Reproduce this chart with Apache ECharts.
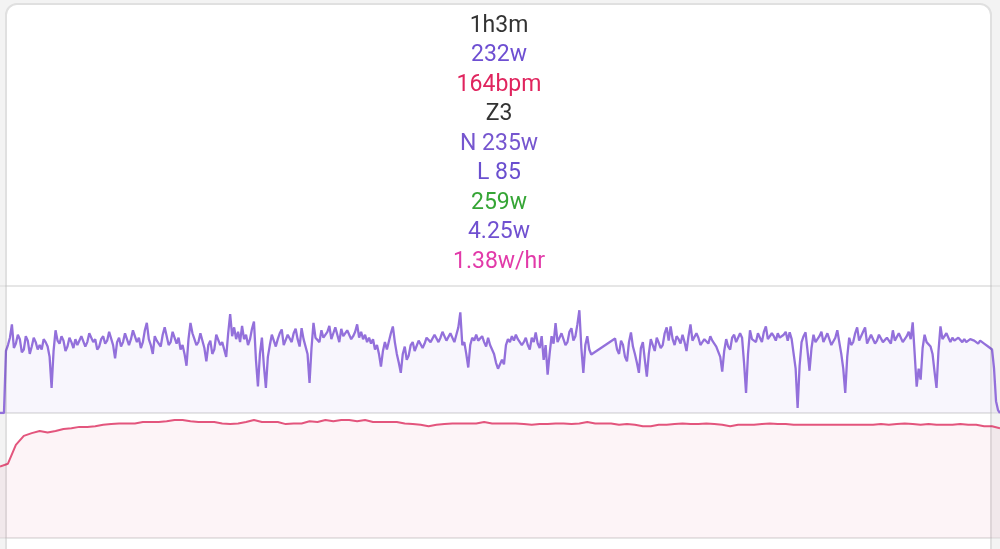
<!DOCTYPE html>
<html>
<head>
<meta charset="utf-8">
<script src="https://cdn.jsdelivr.net/npm/echarts@6/dist/echarts.min.js"></script>
<style>
  html, body { margin: 0; padding: 0; background: #f3f3f3; }
  #chart { width: 1000px; height: 549px; }
</style>
</head>
<body>
<div id="chart"></div>
<script>
// ---- data ----
// summary lines shown above the charts
const summaryTexts = ['1h3m', '232w', '164bpm', 'Z3', 'N 235w', 'L 85', '259w', '4.25w', '1.38w/hr'];
const summaryColors = ['#333333', '#6e4fd2', '#e0245e', '#333333', '#7656cf', '#6a4fcf', '#35a535', '#7050d0', '#e23aa9'];

// ride duration in seconds (1h3m)
const durationSec = 3780;
// power samples (watts), one every 7.5 s; null = no data (dropout)
const powerStepSec = 7.5;
const power = [
  0, 0, 0, 210, 230, 255, 300, 220, 235, 265, 250, 205, 215, 260, 245, 200, 225, 255, 240, 215,
  230, 215, 250, 240, 225, 190, 85, 210, 280, 245, 235, 260, 245, 210, 225, 255, 240, 220, 250, 230,
  235, 260, 255, 225, 240, 270, 265, 240, 250, 215, 225, 250, 260, 235, 245, 275, 270, 230, 185, 240,
  255, 225, 240, 270, 265, 230, 250, 280, 275, 240, 255, 220, 240, 280, 305, 250, 230, 200, 260, 245,
  245, 225, 265, 290, 285, 230, 240, 275, 270, 235, 255, 215, 230, 200, 160, 250, 305, 270, 250, 230,
  240, 270, 265, 220, 175, 230, 245, 200, 215, 265, 260, 230, 240, 215, 190, 270, 335, 260, 290, 250,
  275, 240, 295, 250, 265, 230, 250, 285, 310, 180, 90, 200, 255, 160, 85, 190, 230, 265, 260, 225,
  250, 270, 283, 230, 235, 265, 260, 240, 270, 285, 250, 225, 287, 250, 255, 200, 102, 220, 305, 255,
  260, 240, 280, 255, 250, 275, 295, 250, 270, 290, 265, 240, 285, 260, 255, 280, 275, 250, 260, 275,
  300, 255, 275, 250, 265, 240, 255, 235, 250, 215, 230, 200, 157, 210, 240, 215, 220, 270, 293, 240,
  200, 170, 136, 200, 225, 180, 195, 230, 240, 210, 215, 245, 250, 220, 235, 255, 260, 240, 245, 265,
  265, 240, 255, 275, 280, 245, 250, 270, 270, 240, 265, 290, 341, 230, 240, 200, 154, 230, 255, 245,
  265, 245, 249, 260, 240, 225, 255, 230, 225, 200, 170, 150, 147, 180, 165, 230, 250, 240, 260, 245,
  265, 250, 245, 230, 240, 255, 230, 215, 255, 240, 273, 235, 220, 260, 180, 230, 130, 200, 260, 235,
  304, 240, 245, 270, 265, 230, 240, 275, 287, 245, 260, 300, 348, 220, 136, 230, 260, 215, 198, null,
  null, null, null, null, null, null, null, null, null, null, 252, 215, 200, 245, 230, 190, 175, 240, 273, 225,
  200, 170, 136, 220, 240, 180, 123, 200, 250, 230, 210, 255, 260, 220, 230, 270, 290, 245, 293, 250,
  230, 260, 250, 235, 265, 240, 210, 260, 300, 245, 240, 270, 255, 230, 225, 250, 250, 235, 260, 245,
  245, 225, 230, 190, 140, 210, 250, 225, 215, 255, 265, 240, 240, 270, 255, 170, 68, 200, 280, 250,
  255, 240, 270, 255, 240, 275, 293, 250, 255, 270, 260, 245, 270, 255, 250, 265, 275, 245, 273, 250,
  255, 150, 17, 160, 240, 260, 273, 210, 143, 220, 265, 240, 235, 260, 275, 240, 245, 270, 265, 230,
  230, 255, 280, 240, 200, 150, 68, 190, 255, 230, 240, 270, 290, 245, 250, 275, 290, 235, 240, 265,
  260, 235, 245, 265, 270, 240, 235, 255, 255, 235, 280, 245, 250, 270, 265, 240, 240, 260, 275, 250,
  307, 200, 89, 150, 113, 220, 265, 240, 240, 225, 200, 140, 85, 210, 293, 250, 250, 270, 265, 240,
  255, 245, 240, 255, 259, 240, 250, 240, 245, 250, 255, 245, 240, 235, 245, 240, 235, 230, 225, 222,
  215, 150, 40, 10, 0
];
// heart-rate samples (bpm), one every 30 s
const hrStepSec = 30;
const heartRate = [
  103, 107, 134, 147, 151, 154, 152, 154, 157, 158,
  160, 160, 161, 163, 164, 165, 165, 165, 167, 167,
  167, 168, 170, 170, 168, 167, 167, 167, 165, 164,
  165, 167, 170, 167, 167, 167, 164, 165, 165, 168,
  167, 170, 168, 170, 170, 168, 170, 167, 167, 167,
  167, 165, 164, 163, 161, 163, 164, 165, 165, 165,
  165, 167, 165, 165, 165, 165, 164, 163, 164, 164,
  165, 165, 164, 165, 167, 165, 165, 165, 163, 164,
  163, 161, 161, 163, 163, 164, 165, 164, 164, 165,
  164, 163, 161, 163, 163, 163, 164, 165, 164, 164,
  163, 163, 163, 163, 163, 163, 163, 163, 163, 163,
  163, 164, 163, 164, 165, 164, 163, 164, 163, 163,
  163, 164, 163, 163, 161, 161, 158
];
// axis ranges
const powerMax = 430;
const hrMax = 180;

// ---- build ----
const powerData = power.map((v, i) => [i * powerStepSec, v]);
const hrData = heartRate.map((v, i) => [i * hrStepSec, v]);

const textGraphics = summaryTexts.map((t, i) => ({
  type: 'text',
  x: 499,
  y: 26 + i * 29.5,
  z: 10,
  style: {
    text: t,
    fill: summaryColors[i],
    font: '23px Roboto',
    textAlign: 'center',
    textVerticalAlign: 'middle'
  }
}));

const chart = echarts.init(document.getElementById('chart'), null, { renderer: 'canvas' });
const splitStyle = { show: true, lineStyle: { color: '#e6e6e6', width: 2 } };
chart.setOption({
  animation: false,
  backgroundColor: '#f3f3f3',
  grid: [
    { left: 0, right: 0, top: 286, height: 127 },
    { left: 0, right: 0, top: 413, height: 125 }
  ],
  xAxis: [
    { type: 'value', gridIndex: 0, min: 0, max: durationSec, show: false },
    { type: 'value', gridIndex: 1, min: 0, max: durationSec, show: false }
  ],
  yAxis: [
    { type: 'value', gridIndex: 0, min: 0, max: powerMax, interval: powerMax,
      axisLine: { show: false }, axisTick: { show: false }, axisLabel: { show: false },
      splitLine: splitStyle },
    { type: 'value', gridIndex: 1, min: 0, max: hrMax, interval: hrMax,
      axisLine: { show: false }, axisTick: { show: false }, axisLabel: { show: false },
      splitLine: splitStyle }
  ],
  series: [
    {
      type: 'line', xAxisIndex: 0, yAxisIndex: 0, data: powerData,
      showSymbol: false, connectNulls: true,
      lineStyle: { color: '#9370db', width: 2.3 },
      itemStyle: { color: '#9370db' },
      areaStyle: { color: 'rgba(147,112,219,0.09)' }
    },
    {
      type: 'line', xAxisIndex: 1, yAxisIndex: 1, data: hrData,
      showSymbol: false,
      lineStyle: { color: '#e3557d', width: 2 },
      itemStyle: { color: '#e3557d' },
      areaStyle: { color: 'rgba(227,85,125,0.09)' }
    }
  ],
  graphic: [
    {
      type: 'rect', z: -10, silent: true,
      shape: { x: 7, y: 5, width: 983, height: 600, r: 10 },
      style: { fill: '#ffffff' }
    },
    {
      type: 'rect', z: 100, silent: true,
      shape: { x: 6, y: 4, width: 985, height: 600, r: 11 },
      style: { fill: 'none', stroke: 'rgba(0,0,0,0.08)', lineWidth: 2 }
    }
  ].concat(textGraphics)
});
</script>
</body>
</html>
